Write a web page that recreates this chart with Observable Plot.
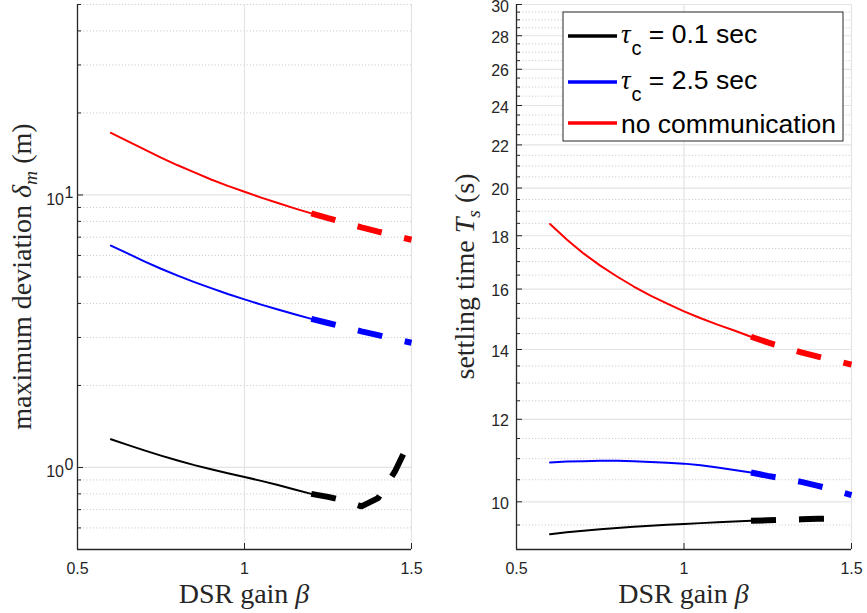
<!DOCTYPE html>
<html><head><meta charset="utf-8">
<script src="https://cdn.jsdelivr.net/npm/d3@7"></script>
<script src="https://cdn.jsdelivr.net/npm/@observablehq/plot@0.6"></script>
<style>
body{margin:0;background:#fff;}
#wrap{position:relative;width:867px;height:613px;overflow:hidden;}
#wrap svg{position:absolute;top:0;overflow:visible;}
</style></head><body><div id="wrap"></div>
<script>
// ---- data ----
const beta = [0.60,0.65,0.70,0.75,0.80,0.85,0.90,0.95,1.00,1.05,1.10,1.15,1.20,1.25,1.30,1.35,1.40,1.45,1.50];
const betaBlack = [0.60,0.65,0.70,0.75,0.80,0.85,0.90,0.95,1.00,1.05,1.10,1.15,1.20,1.25,1.30,1.35,1.40,1.45,1.48];

// maximum deviation (m)
const devNoComm = [16.9,15.75,14.7,13.7,12.85,12.1,11.4,10.8,10.27,9.78,9.34,8.93,8.56,8.22,7.90,7.61,7.34,7.08,6.85];
const devTau25  = [6.52,6.10,5.71,5.36,5.06,4.79,4.55,4.33,4.14,3.96,3.80,3.65,3.51,3.39,3.27,3.16,3.06,2.96,2.87];
const devTau01  = [1.27,1.21,1.155,1.105,1.06,1.02,0.985,0.952,0.923,0.893,0.862,0.83,0.80,0.78,0.755,0.72,0.772,0.965,1.15];

// settling time (s)
const tsNoComm = [18.47,17.85,17.31,16.85,16.45,16.09,15.77,15.49,15.23,15.0,14.79,14.60,14.40,14.22,14.06,13.91,13.78,13.66,13.54];
const tsTau25  = [10.91,10.93,10.94,10.95,10.95,10.94,10.92,10.90,10.88,10.84,10.79,10.73,10.67,10.59,10.52,10.45,10.36,10.26,10.15];
const tsTau01  = [9.31,9.35,9.38,9.41,9.44,9.465,9.485,9.505,9.52,9.54,9.56,9.575,9.59,9.60,9.61,9.62,9.63,9.635,9.64];

const seriesNames = ["τc = 0.1 sec","τc = 2.5 sec","no communication"];
const seriesColors = ["#000000","#0000ff","#ff0000"];
const splitBeta = 1.2;

const xTicks = [0.5, 1, 1.5];
const xTickLabels = ["0.5","1","1.5"];
const leftYTicks = [1, 10];
const leftYExp = ["0","1"];
const leftMinor = [0.5,0.6,0.7,0.8,0.9,2,3,4,5,6,7,8,9,20,30,40,50];
const rightYTicks = [10,12,14,16,18,20,22,24,26,28,30];
const rightMinor = [9,9.5,10.5,11,11.5,12.5,13,13.5,14.5,15,15.5,16.5,17,17.5,18.5,19,19.5,20.5,21,21.5,22.5,23,23.5,24.5,25,25.5,26.5,27,27.5,28.5,29,29.5];

const leftDomain = [0.5, 50];
const rightDomain = [9, 30];

// ---- helpers ----
function rows(xs, ys, name) { return xs.map((b, i) => ({beta: b, v: ys[i], name})); }
const axisColor = "#262626";
const gridColor = "#e3e3e3";
const minorColor = "#c4c4c4";
const SANS = "'Liberation Sans', Arial, sans-serif";
const SERIF = "'Liberation Serif', 'Times New Roman', serif";
const TICK_FS = 16;

function seriesMarks(list) {
  const marks = [];
  list.forEach(([xs, ys], k) => {
    const r = rows(xs, ys, seriesNames[k]);
    marks.push(Plot.line(r.filter(d => d.beta <= splitBeta), {x: "beta", y: "v", stroke: seriesColors[k], strokeWidth: 2, strokeLinejoin: "round"}));
    marks.push(Plot.line(r.filter(d => d.beta >= splitBeta), {x: "beta", y: "v", stroke: seriesColors[k], strokeWidth: 6, strokeDasharray: "25,23", strokeLinecap: "butt", strokeLinejoin: "miter"}));
  });
  return marks;
}

function frameMarks(yMin, majorY, minorY, plotW, plotH, minorTicks) {
  return [
    Plot.ruleY(minorY, {y: d => d, stroke: minorColor, strokeWidth: 1, strokeDasharray: "1,2.2"}),
    Plot.ruleY(majorY, {y: d => d, stroke: gridColor, strokeWidth: 1.2}),
    Plot.ruleX([1, 1.5], {x: d => d, stroke: gridColor, strokeWidth: 1.2}),
    Plot.tickY(majorY, {y: d => d, stroke: axisColor, strokeWidth: 1, insetRight: plotW - 6}),
    Plot.tickY(minorTicks, {y: d => d, stroke: axisColor, strokeWidth: 1, insetRight: plotW - 4}),
    Plot.tickX(xTicks, {x: d => d, stroke: axisColor, strokeWidth: 1, insetTop: plotH - 6}),
    Plot.ruleX([0.5], {x: d => d, stroke: axisColor, strokeWidth: 1.3}),
    Plot.ruleY([yMin], {y: d => d, stroke: axisColor, strokeWidth: 1.3}),
    Plot.axisX(xTicks, {tickSize: 0, tickPadding: 13, tickFormat: (d, i) => xTickLabels[i], label: null})
  ];
}

const H = 613, MT = 4, MB = 64;
const plotH = H - MT - MB;

// ---- left panel ----
const leftW = 430, leftML = 77, leftMR = 19;
const left = Plot.plot({
  width: leftW, height: H,
  marginLeft: leftML, marginRight: leftMR, marginTop: MT, marginBottom: MB,
  style: {color: axisColor, background: "transparent", overflow: "visible"},
  x: {domain: [0.5, 1.5]},
  y: {type: "log", domain: leftDomain, axis: null},
  marks: [
    ...frameMarks(leftDomain[0], leftYTicks, leftMinor, leftW - leftML - leftMR, plotH, leftMinor),
    Plot.text(leftYTicks, {y: d => d, frameAnchor: "left", text: () => "10", textAnchor: "end", dx: -13.5, dy: 4.5, fill: axisColor}),
    Plot.text(leftYTicks, {y: d => d, frameAnchor: "left", text: (d, i) => leftYExp[i], textAnchor: "start", dx: -13, dy: -2.5, fill: axisColor, ariaLabel: "ytickexp"}),
    ...seriesMarks([[betaBlack, devTau01], [beta, devTau25], [beta, devNoComm]])
  ]
});

// ---- right panel ----
const rightW = 437, rightML = 86, rightMR = 16;
const right = Plot.plot({
  width: rightW, height: H,
  marginLeft: rightML, marginRight: rightMR, marginTop: MT, marginBottom: MB,
  style: {color: axisColor, background: "transparent", overflow: "visible"},
  x: {domain: [0.5, 1.5]},
  y: {type: "log", domain: rightDomain},
  marks: [
    ...frameMarks(rightDomain[0], rightYTicks, rightMinor, rightW - rightML - rightMR, plotH, rightMinor),
    Plot.axisY(rightYTicks, {tickSize: 0, tickPadding: 7.5, dy: 2, tickFormat: d => String(d), label: null}),
    ...seriesMarks([[betaBlack, tsTau01], [beta, tsTau25], [beta, tsNoComm]])
  ]
});

const wrap = document.getElementById("wrap");
left.style.left = "0px";
right.style.left = leftW + "px";
wrap.appendChild(left);
wrap.appendChild(right);

// force tick-label fonts
[left, right].forEach(svg => {
  d3.select(svg).selectAll("text")
    .style("font-family", SANS).style("font-size", TICK_FS + "px").style("fill", axisColor);
});
d3.select(left).selectAll("g[aria-label='ytickexp'] text").style("font-size", "11px");

// ---- axis titles (serif, with italic math parts) ----
function label(svg, x, y, rot, parts, size) {
  const t = d3.select(svg).append("text")
    .attr("transform", `translate(${x},${y})` + (rot ? " rotate(-90)" : ""))
    .attr("text-anchor", "middle")
    .style("font-family", SERIF)
    .style("font-size", size + "px").style("fill", axisColor);
  let shift = 0;
  parts.forEach(p => {
    const ts = t.append("tspan").text(p.t);
    if (p.i) ts.style("font-style", "italic");
    const want = p.sub ? 6 : 0;
    if (want !== shift) { ts.attr("dy", want - shift); shift = want; }
    if (p.sub) ts.style("font-size", (size * 0.7) + "px");
  });
}
const xLabelParts = [{t: "DSR gain "}, {t: "β", i: true}];
const leftYLabelParts = [{t: "maximum deviation "}, {t: "δ", i: true}, {t: "m", i: true, sub: true}, {t: " (m)"}];
const rightYLabelParts = [{t: "settling time "}, {t: "T", i: true}, {t: "s", i: true, sub: true}, {t: " (s)"}];

label(left, leftML + (leftW - leftML - leftMR) / 2, 603, false, xLabelParts, 28);
label(left, 31, MT + plotH / 2, true, leftYLabelParts, 28);
label(right, rightML + (rightW - rightML - rightMR) / 2, 603, false, xLabelParts, 28);
label(right, 44, MT + plotH / 2, true, rightYLabelParts, 28);

// ---- legend (inside right axes) ----
const lg = d3.select(right).append("g").attr("text-anchor", "start");
lg.append("rect").attr("x", 133).attr("y", 12).attr("width", 280).attr("height", 129)
  .attr("fill", "#fff").attr("stroke", axisColor).attr("stroke-width", 1);
const rowY = [36, 82, 123];
seriesNames.forEach((name, k) => {
  lg.append("line").attr("x1", 138).attr("x2", 187).attr("y1", rowY[k]).attr("y2", rowY[k])
    .attr("stroke", seriesColors[k]).attr("stroke-width", 3.5);
  const t = lg.append("text").attr("x", 191).attr("text-anchor", "start")
    .style("font-family", SANS).style("font-size", "26.5px").style("fill", "#000");
  if (name.startsWith("τc")) {
    t.attr("y", rowY[k] + 6.5);
    t.append("tspan").text("τ").style("font-family", SERIF).style("font-style", "italic");
    t.append("tspan").text("c").style("font-size", "20px").attr("dy", 12).attr("dx", 1);
    t.append("tspan").text(name.slice(2)).attr("dy", -12);
  } else {
    t.attr("y", rowY[k] + 10).text(name);
  }
});
</script></body></html>
